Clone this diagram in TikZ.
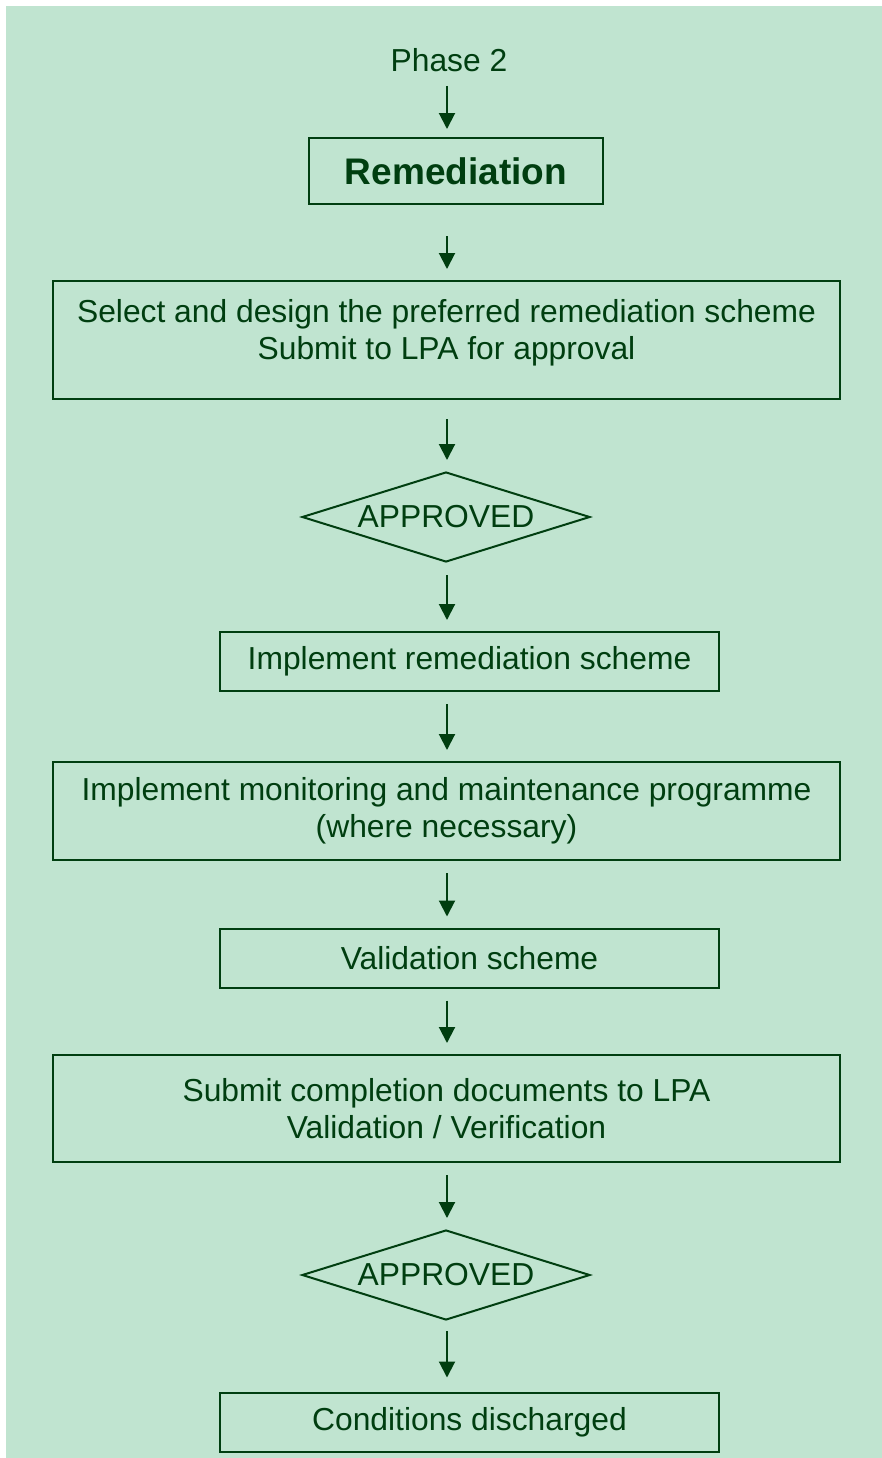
\documentclass[tikz,border=0pt]{standalone}
\usepackage{fontspec}
\setmainfont{Liberation Sans}
\usetikzlibrary{positioning}
\usetikzlibrary{shapes.geometric}
\usetikzlibrary{arrows.meta}
\usepackage{xcolor}
\definecolor{leaf}{HTML}{003E10}
\definecolor{mint}{HTML}{C0E4D0}

\begin{document}
\begin{tikzpicture}[
  x=0.5pt, y=-0.5pt,
  font=\fontsize{15.9}{18.5}\selectfont,
  every node/.style={text=leaf},
  box/.style={draw=leaf, line width=1pt, align=center, inner sep=0pt},
  widebox/.style={box, minimum width=393.5pt},
  narrowbox/.style={box, minimum width=249.5pt, minimum height=29.5pt},
  decision/.style={diamond, draw=leaf, line width=1pt, inner sep=0pt,
    shape aspect=3.2, minimum width=144pt, minimum height=45pt},
  flow/.style={draw=leaf, line width=1pt, -{Triangle[width=8pt,length=8pt]},
    shorten <=6pt, shorten >=5.5pt}
]

% Frame and background
\useasboundingbox (0,0) rectangle (882,1458);
\fill[mint] (6,6) rectangle (882,1458);

% Flow column
\coordinate (col) at (447,0);

% Steps
\node (phase) at (449,60) {Phase 2};
\node[box, minimum width=147pt, minimum height=33pt,
  font=\fontsize{18.5}{22}\selectfont\bfseries] (remed) at (456,171) {Remediation};
\node[widebox, minimum height=59pt, text depth=10.5pt] (select) at (446.5,340)
  {Select and design the preferred remediation scheme\\Submit to LPA for approval};
\node[decision] (appr1) at (446,517) {APPROVED};
\node[narrowbox] (implement) at (469.5,661.5) {Implement remediation scheme};
\node[widebox, minimum height=49pt] (monitor) at (446.5,811)
  {Implement monitoring and maintenance programme\\(where necessary)};
\node[narrowbox] (valid) at (469.5,958) {Validation scheme};
\node[widebox, minimum height=53.5pt] (submit) at (446.5,1108.5)
  {Submit completion documents to LPA\\Validation / Verification};
\node[decision] (appr2) at (446,1275) {APPROVED};
\node[narrowbox] (done) at (469.5,1422) {Conditions discharged};

% Arrows
\draw[flow, shorten <=3.5pt, shorten >=4pt] (col |- phase.south) -- (col |- remed.north);
\draw[flow, shorten <=15.5pt] (col |- remed.south) -- (col |- select.north);
\draw[flow, shorten <=9.5pt] (col |- select.south) -- (col |- appr1.north);
\draw[flow] (col |- appr1.south) -- (col |- implement.north);
\draw[flow] (col |- implement.south) -- (col |- monitor.north);
\draw[flow] (col |- monitor.south) -- (col |- valid.north);
\draw[flow] (col |- valid.south) -- (col |- submit.north);
\draw[flow] (col |- submit.south) -- (col |- appr2.north);
\draw[flow, shorten <=5pt, shorten >=7pt] (col |- appr2.south) -- (col |- done.north);

\end{tikzpicture}
\end{document}
